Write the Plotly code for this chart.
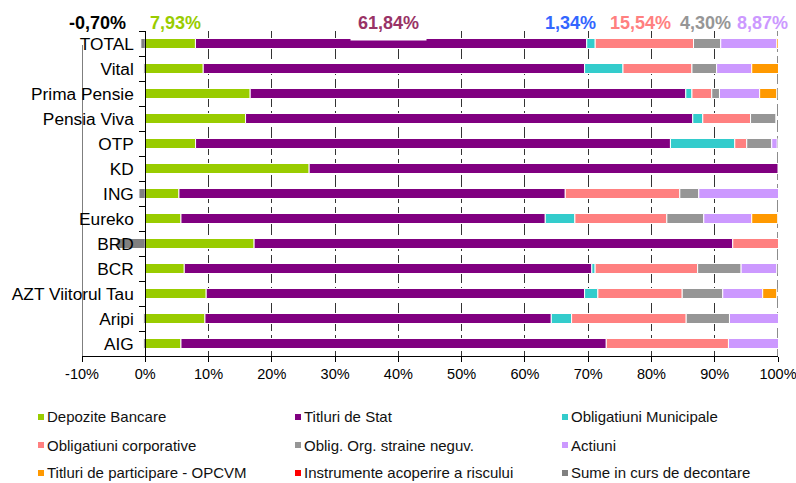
import plotly.graph_objects as go

# ---------------- data ----------------
categories = ["TOTAL", "Vital", "Prima Pensie", "Pensia Viva", "OTP", "KD", "ING",
              "Eureko", "BRD", "BCR", "AZT Viitorul Tau", "Aripi", "AIG"]

depozite_bancare = [7.93, 9.16, 16.58, 15.85, 7.95, 25.90, 5.32, 5.64, 17.20, 6.16, 9.63, 9.43, 5.64]
titluri_de_stat = [61.84, 60.27, 68.85, 70.68, 75.05, 74.10, 61.06, 57.58, 75.65, 64.42, 59.80, 54.74, 67.22]
oblig_municipale = [1.34, 6.07, 0.97, 1.58, 10.17, 0, 0, 4.68, 0, 0.52, 2.10, 3.21, 0]
oblig_corporative = [15.54, 10.90, 3.13, 7.55, 1.89, 0, 18.10, 14.53, 7.55, 16.20, 13.33, 18.11, 19.31]
oblig_straine = [4.30, 3.90, 1.22, 4.00, 3.95, 0, 3.00, 5.84, 0, 6.87, 6.41, 6.84, 0]
actiuni = [8.87, 5.55, 6.35, 0, 0.85, 0, 12.90, 7.58, 0, 5.63, 6.31, 7.89, 8.05]
titluri_participare = [0.88, 4.35, 2.70, 0, 0, 0, 0, 4.10, 0, 0, 2.22, 0, 0]
instrumente_risc = [0, 0, 0, 0, 0, 0, 0, 0, 0, 0, 0, 0, 0]
sume_decontare = [-0.70, -0.25, 0, 0, 0, 0, -1.00, 0, -4.50, 0, 0, -0.30, -0.30]

series_names = ["Depozite Bancare", "Titluri de Stat", "Obligatiuni Municipale",
                "Obligatiuni corporative", "Oblig. Org. straine neguv.", "Actiuni",
                "Titluri de participare - OPCVM", "Instrumente acoperire a riscului",
                "Sume in curs de decontare"]
series_values = [depozite_bancare, titluri_de_stat, oblig_municipale, oblig_corporative,
                 oblig_straine, actiuni, titluri_participare, instrumente_risc, sume_decontare]
series_colors = ["#99CC00", "#800080", "#33CCCC", "#FF8080", "#969696", "#CC99FF",
                 "#FF9900", "#FF0000", "#808080"]

x_ticks = [-10, 0, 10, 20, 30, 40, 50, 60, 70, 80, 90, 100]
x_tick_labels = [f"{v}%" for v in x_ticks]

# top labels (TOTAL values) : series index, x position, colour
top_label_series = [8, 0, 1, 2, 3, 4, 5]
top_label_x = [-7.5, 4.7, 38.5, 67.2, 78.3, 88.5, 97.6]
top_label_colors = ["#000000", "#99CC00", "#993366", "#3366FF", "#FF8080", "#969696", "#CC99FF"]

FONT = "Arial, 'Liberation Sans', sans-serif"

fig = go.Figure()
for name, vals, col in zip(series_names, series_values, series_colors):
    fig.add_trace(go.Bar(
        y=categories, x=[v if v != 0 else None for v in vals], name=name,
        orientation="h", marker=dict(color=col, line=dict(color="white", width=1)),
        width=0.4, cliponaxis=False, showlegend=False,
        hovertemplate="%{y}: %{x:.2f}%<extra>" + name + "</extra>"))

W, H = 796, 483
ML, MR, MT, MB = 82, 18, 31, 127
PW, PH = W - ML - MR, H - MT - MB

fig.update_layout(
    width=W, height=H, barmode="relative", bargap=0.6,
    margin=dict(l=ML, r=MR, t=MT, b=MB, pad=0, autoexpand=False),
    paper_bgcolor="white", plot_bgcolor="white",
    font=dict(family=FONT, color="#000000"),
    xaxis=dict(range=[-10, 100], tickvals=x_ticks, ticktext=x_tick_labels,
               showgrid=True, gridcolor="#333333", griddash="12px,4px", gridwidth=1,
               zeroline=False, showline=True, linecolor="#000000", linewidth=1,
               ticks="outside", ticklen=5, tickcolor="#000000",
               ticklabeloverflow="allow",
               tickfont=dict(size=14.5, family=FONT, color="#000000"), fixedrange=True),
    yaxis=dict(categoryorder="array", categoryarray=categories, autorange="reversed",
               anchor="free", position=10 / 110, showline=True, linecolor="#000000",
               linewidth=1, ticks="outside", ticklen=6, tickcolor="#000000",
               tickson="boundaries", showgrid=False, zeroline=False,
               ticklabelstandoff=8,
               tickfont=dict(size=17.3, family=FONT, color="#000000"), fixedrange=True),
)

# left border line at -10% and dashed line at 100%
fig.add_shape(type="line", xref="x", yref="paper", x0=-10, x1=-10, y0=0,
              y1=(H - MB - 45) / PH, line=dict(color="#000000", width=1), layer="above")
fig.add_shape(type="line", xref="x", yref="paper", x0=100, x1=100, y0=0, y1=1,
              line=dict(color="#666666", width=1.5, dash="12px,4px"), layer="below")

# top value labels for TOTAL
for si, xp, col in zip(top_label_series, top_label_x, top_label_colors):
    v = series_values[si][0]
    txt = f"{v:.2f}%".replace(".", ",")
    white = si == 1
    fig.add_annotation(x=xp, y=1, xref="x", yref="paper", text=f"<b>{txt}</b>",
                       showarrow=False, xanchor="center", yanchor="middle", yshift=8,
                       font=dict(size=18, family=FONT, color=col),
                       bgcolor="white" if white else "rgba(0,0,0,0)",
                       borderpad=7 if white else 0)

# custom legend (3 columns)
col_px = [41, 298, 565]
row_px = [417, 445, 473]
for i, (name, col) in enumerate(zip(series_names, series_colors)):
    cx = col_px[i % 3]
    cy = row_px[i // 3]
    px_x = (cx - ML) / PW
    px_y = (H - MB - cy) / PH
    fig.add_shape(type="rect", xref="paper", yref="paper", xsizemode="pixel",
                  ysizemode="pixel", xanchor=px_x, yanchor=px_y, x0=-3, x1=3, y0=-3, y1=3,
                  fillcolor=col, line=dict(width=0))
    fig.add_annotation(x=px_x, y=px_y, xref="paper", yref="paper", text=name,
                       showarrow=False, xanchor="left", yanchor="middle", xshift=4,
                       font=dict(size=15, family=FONT, color="#111111"))

fig.write_html("out.html", config={"displayModeBar": False},
               post_script="document.body.style.margin='0';document.body.style.padding='0';")
